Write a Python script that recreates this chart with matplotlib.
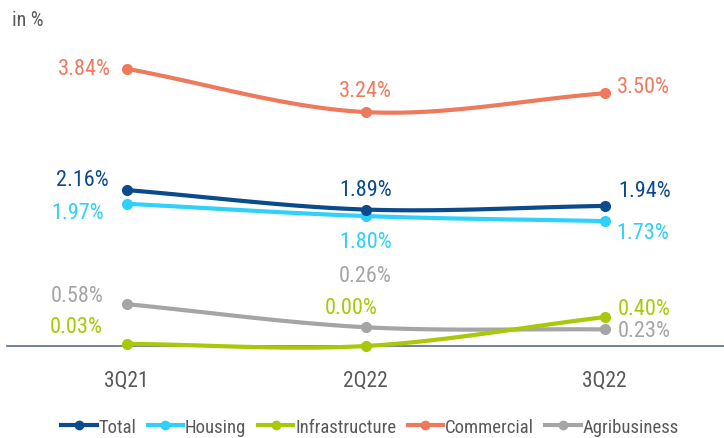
import numpy as np
import matplotlib
matplotlib.use("Agg")
import matplotlib.pyplot as plt
from matplotlib import font_manager

categories = ["3Q21", "2Q22", "3Q22"]
series_names = ["Total", "Housing", "Infrastructure", "Commercial", "Agribusiness"]
total = [2.16, 1.89, 1.94]
housing = [1.97, 1.80, 1.73]
infrastructure = [0.03, 0.00, 0.40]
commercial = [3.84, 3.24, 3.50]
agribusiness = [0.58, 0.26, 0.23]

colors = {
    "Total": "#0B4A8B",
    "Housing": "#2FD0FA",
    "Infrastructure": "#A9C80A",
    "Commercial": "#EE7A5E",
    "Agribusiness": "#A5A5A5",
}

# label offsets in pixels (dx, dy)
offsets = {
    "Commercial": [(-42, 0), (0, 22), (39, 7)],
    "Total": [(-44, 11), (0, 20), (40, 15)],
    "Housing": [(-49, -9), (0, -25), (38, -11)],
    "Agribusiness": [(-49, 9), (0, 52), (40, -1)],
    "Infrastructure": [(-50, 17), (-14, 38), (40, 9)],
}

avail = {f.name for f in font_manager.fontManager.ttflist}
fam = None
for cand in ["Roboto Condensed", "Liberation Sans Narrow", "DejaVu Sans Condensed", "Roboto", "DejaVu Sans"]:
    if cand in avail:
        fam = cand
        break
plt.rcParams["font.family"] = [fam, "DejaVu Sans"]


def smooth(xs, ys, n=60):
    # Catmull-Rom spline through the points (Excel-like smoothing)
    xs = np.asarray(xs, float)
    ys = np.asarray(ys, float)
    P = np.column_stack([xs, ys])
    P = np.vstack([2 * P[0] - P[1], P, 2 * P[-1] - P[-2]])
    out = []
    for i in range(1, len(P) - 2):
        p0, p1, p2, p3 = P[i - 1], P[i], P[i + 1], P[i + 2]
        t = np.linspace(0, 1, n)[:, None]
        seg = 0.5 * ((2 * p1) + (-p0 + p2) * t + (2 * p0 - 5 * p1 + 4 * p2 - p3) * t ** 2
                     + (-p0 + 3 * p1 - 3 * p2 + p3) * t ** 3)
        out.append(seg if i == 1 else seg[1:])
    out = np.vstack(out)
    return out[:, 0], out[:, 1]


W, H = 724, 439
fig = plt.figure(figsize=(W / 100, H / 100), dpi=100)
ax = fig.add_axes([7 / W, (H - 347) / H, (724 - 7) / W, (347 - 40) / H])
ax.set_xlim(-0.5, 2.5)
ax.set_ylim(0, (347 - 40) / 72.2)

x = np.arange(len(categories))
data = {
    "Total": total,
    "Housing": housing,
    "Infrastructure": infrastructure,
    "Commercial": commercial,
    "Agribusiness": agribusiness,
}
order = ["Agribusiness", "Infrastructure", "Commercial", "Housing", "Total"]
handles = {}
for name in order:
    vals = data[name]
    c = colors[name]
    sx, sy = smooth(x, vals)
    ax.plot(sx, sy, color=c, lw=3.0, solid_capstyle="round", clip_on=False, zorder=3)
    ax.plot(x, vals, "o", color=c, ms=7, clip_on=False, zorder=4)
    h, = ax.plot([], [], "-o", color=c, lw=3.0, ms=6)
    handles[name] = h
    for i, v in enumerate(vals):
        dx, dy = offsets[name][i]
        ax.annotate(f"{v:.2f}%", (x[i], v), xytext=(dx, dy), textcoords="offset pixels",
                    ha="center", va="center", color=c, fontsize=16, annotation_clip=False)

for s in ["top", "right", "left"]:
    ax.spines[s].set_visible(False)
ax.spines["bottom"].set_color("#5B6C86")
ax.spines["bottom"].set_linewidth(1.2)
ax.set_yticks([])
ax.set_xticks(x)
ax.set_xticklabels(categories, fontsize=15.5, color="#595959")
ax.tick_params(axis="x", length=0, pad=17)

fig.text(12 / W, 1 - 20 / H, "in %", fontsize=14.5, color="#595959", ha="left", va="center")

leg = fig.legend([handles[n] for n in series_names], series_names, loc="center",
                 bbox_to_anchor=(370 / W, 1 - 428 / H), ncol=5, frameon=False,
                 fontsize=13.5, handlelength=1.9, handletextpad=0.1, columnspacing=0.6,
                 labelcolor="#595959", borderpad=0.2)

fig.savefig("out.png", dpi=100)
